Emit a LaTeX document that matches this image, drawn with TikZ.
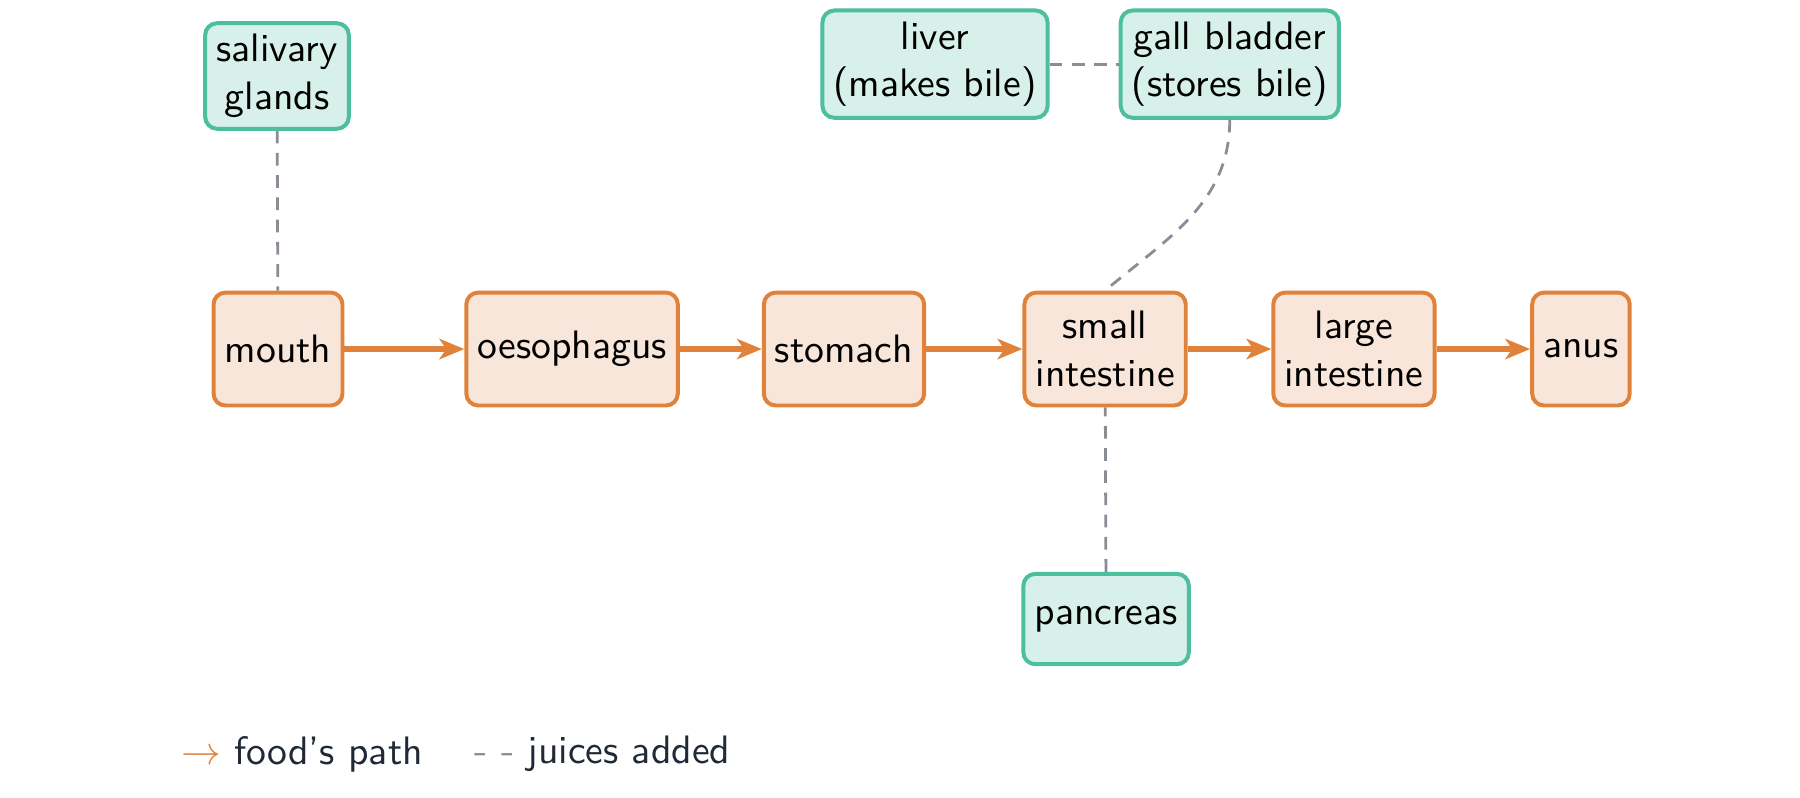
\documentclass[tikz,border=0pt]{standalone}
\usetikzlibrary{arrows.meta}
\definecolor{foodline}{HTML}{E0823A}
\definecolor{foodfill}{HTML}{F8E6DA}
\definecolor{juiceline}{HTML}{4DBE9E}
\definecolor{juicefill}{HTML}{D7F0E9}
\definecolor{dashgray}{HTML}{888D96}
\definecolor{legtext}{HTML}{1F2937}
\begin{document}
\begin{tikzpicture}[font=\sffamily,
  organ/.style={draw=foodline, fill=foodfill, line width=1pt, rounded corners=3pt, minimum height=1cm, inner sep=2.8pt, align=center},
  gland/.style={draw=juiceline, fill=juicefill, line width=1pt, rounded corners=3pt, minimum height=0.8cm, inner sep=2.8pt, align=center},
  food/.style={foodline, line width=1.4pt, -{Stealth[length=2.2mm, width=1.8mm, inset=0.6mm]}},
  juice/.style={dashgray, line width=0.7pt, dash pattern=on 3.2pt off 2.4pt}]
\useasboundingbox (0,0) rectangle (15.94,7.058);
\node[organ] (org0) at (2.462,3.967){mouth};
\node[organ] (org1) at (5.066,3.967){oesophagus};
\node[organ] (org2) at (7.474,3.967){stomach};
\node[organ] (org3) at (9.786,3.967){small\\intestine};
\node[organ] (org4) at (11.99,3.967){large\\intestine};
\node[organ] (org5) at (14.00,3.967){anus};
\node[gland] (gland0) at (2.453,6.385){salivary\\glands};
\node[gland] (gland1) at (8.28,6.49){liver\\(makes bile)};
\node[gland] (gland2) at (10.89,6.49){gall bladder\\(stores bile)};
\node[gland] (gland3) at (9.795,1.576){pancreas};
\draw[food](org0) -- (org1);
\draw[food](org1) -- (org2);
\draw[food](org2) -- (org3);
\draw[food](org3) -- (org4);
\draw[food](org4) -- (org5);
\draw[juice](gland0) -- (org0);
\draw[juice](gland1) -- (gland2);
\draw[juice](gland2.south) to[out=-90, in=40] (org3.north);
\draw[juice](gland3) -- (org3);
\node[anchor=west, inner sep=0, text=legtext] (leg0) at (1.6,0.381){\textcolor{foodline}{$\rightarrow$} food's path};
\node[anchor=west, inner sep=0, text=legtext] (leg1) at (4.198,0.381){\textcolor{dashgray}{- -} juices added};
\end{tikzpicture}
\end{document}
